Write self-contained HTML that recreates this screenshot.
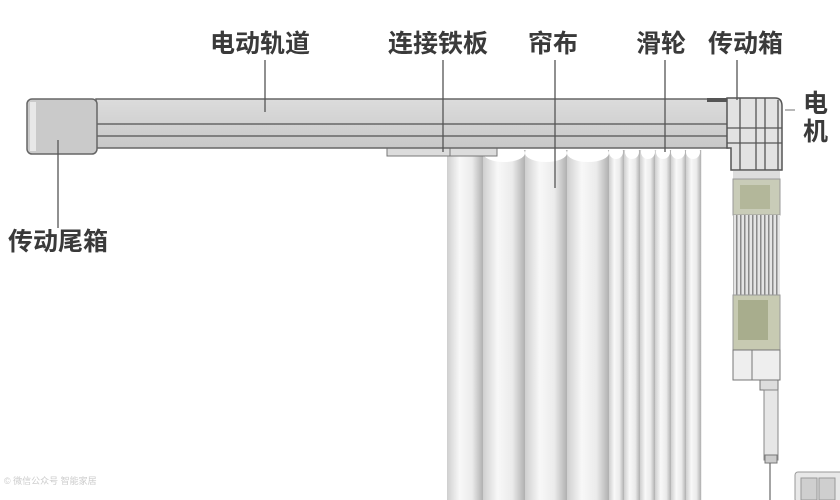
<!DOCTYPE html>
<html><head><meta charset="utf-8"><style>
html,body{margin:0;padding:0;background:#fff;}
svg{display:block}
text{font-family:"Liberation Sans","Noto Sans CJK SC",sans-serif;font-weight:bold;fill:#3a3a3a;font-size:25px}
</style></head><body>
<svg width="840" height="500" viewBox="0 0 840 500" xmlns="http://www.w3.org/2000/svg">
<defs>
<linearGradient id="fold" x1="0" x2="1" y1="0" y2="0">
<stop offset="0" stop-color="#cfcfcf"/><stop offset="0.35" stop-color="#f8f8f8"/><stop offset="0.7" stop-color="#ebebeb"/><stop offset="1" stop-color="#b0b0b0"/>
</linearGradient>
<linearGradient id="trk" x1="0" x2="0" y1="0" y2="1">
<stop offset="0" stop-color="#dcdcdc"/><stop offset="1" stop-color="#c8c8c8"/>
</linearGradient>
<pattern id="grill" width="4" height="4" patternUnits="userSpaceOnUse">
<rect width="4" height="4" fill="#e4e4e4"/><rect width="1.5" height="4" fill="#8a8a8a"/>
</pattern>
</defs>

<text x="210" y="52">电动轨道</text>
<text x="388" y="52">连接铁板</text>
<text x="528" y="52">帘布</text>
<text x="636" y="52">滑轮</text>
<text x="708" y="52">传动箱</text>
<text x="803" y="112">电</text>
<text x="803" y="140">机</text>
<text x="8" y="250">传动尾箱</text>

<g>
<rect x="447" y="150" width="255" height="350" fill="#efefef"/>
<rect x="447" y="150" width="36" height="350" fill="url(#fold)"/>
<rect x="483" y="150" width="42" height="350" fill="url(#fold)"/>
<rect x="525" y="150" width="42" height="350" fill="url(#fold)"/>
<rect x="567" y="150" width="42" height="350" fill="url(#fold)"/>
<rect x="609" y="150" width="15" height="350" fill="url(#fold)"/>
<rect x="624" y="150" width="16" height="350" fill="url(#fold)"/>
<rect x="640" y="150" width="15" height="350" fill="url(#fold)"/>
<rect x="655" y="150" width="16" height="350" fill="url(#fold)"/>
<rect x="671" y="150" width="15" height="350" fill="url(#fold)"/>
<rect x="686" y="150" width="15" height="350" fill="url(#fold)"/>
<g fill="#fff">
<ellipse cx="504" cy="153" rx="21" ry="9"/><ellipse cx="546" cy="153" rx="21" ry="9"/><ellipse cx="588" cy="153" rx="21" ry="9"/>
<ellipse cx="616" cy="152" rx="7" ry="7"/><ellipse cx="632" cy="152" rx="7" ry="7"/><ellipse cx="648" cy="152" rx="7" ry="7"/><ellipse cx="663" cy="152" rx="7" ry="7"/><ellipse cx="678" cy="152" rx="7" ry="7"/><ellipse cx="693" cy="152" rx="7" ry="7"/>
</g>
</g>

<rect x="387" y="146" width="110" height="10" fill="#dcdcdc" stroke="#777" stroke-width="1"/>
<line x1="450" y1="146" x2="450" y2="156" stroke="#777"/>

<rect x="96" y="99" width="632" height="49" fill="url(#trk)" stroke="#666" stroke-width="1.5"/>
<line x1="96" y1="124" x2="728" y2="124" stroke="#666" stroke-width="1.5"/>
<line x1="96" y1="136" x2="728" y2="136" stroke="#666" stroke-width="1.5"/>
<rect x="27" y="99" width="70" height="55" rx="5" fill="#cacaca" stroke="#666" stroke-width="1.5"/>
<rect x="30" y="102" width="6" height="49" fill="#e8e8e8"/>

<rect x="707" y="98" width="22" height="4" fill="#555"/>
<path d="M727 98 H775 Q782 98 782 106 V170 H731 V148 H727 Z" fill="#e2e2e2" stroke="#555" stroke-width="1.5"/>
<g stroke="#555" stroke-width="1.3">
<line x1="740" y1="98" x2="740" y2="170"/><line x1="756" y1="98" x2="756" y2="170"/><line x1="765" y1="98" x2="765" y2="170"/><line x1="778" y1="100" x2="778" y2="170"/>
<line x1="727" y1="128" x2="782" y2="128"/><line x1="727" y1="143" x2="782" y2="143"/>
</g>
<line x1="785" y1="110" x2="795" y2="110" stroke="#888" stroke-width="1.2"/>

<rect x="733" y="171" width="47" height="8" fill="#ddd"/>
<rect x="733" y="179" width="47" height="36" fill="#c9ccb8" stroke="#999"/>
<rect x="740" y="185" width="30" height="24" fill="#b3b79a"/>
<rect x="733" y="215" width="47" height="80" fill="url(#grill)"/>
<rect x="733" y="295" width="47" height="55" fill="#c7cab2" stroke="#999"/>
<rect x="738" y="300" width="30" height="40" fill="#a8ad8d"/>
<rect x="733" y="350" width="47" height="30" fill="#eee" stroke="#777"/>
<line x1="752" y1="350" x2="752" y2="380" stroke="#777"/>
<rect x="760" y="380" width="18" height="10" fill="#ddd" stroke="#777"/>
<rect x="764" y="390" width="14" height="70" fill="#e6e6e6" stroke="#888"/>
<rect x="765" y="455" width="12" height="8" fill="#ccc" stroke="#777"/>
<line x1="770" y1="463" x2="770" y2="500" stroke="#666" stroke-width="1.2"/>
<rect x="795" y="472" width="50" height="30" rx="3" fill="#e8e8e8" stroke="#999"/>
<rect x="801" y="478" width="16" height="22" fill="#cfcfcf" stroke="#999"/>
<rect x="819" y="478" width="16" height="22" fill="#cfcfcf" stroke="#999"/>

<g stroke="#555" stroke-width="1.3">
<line x1="265" y1="60" x2="265" y2="112"/>
<line x1="443" y1="60" x2="443" y2="152"/>
<line x1="555" y1="60" x2="555" y2="188"/>
<line x1="665" y1="60" x2="665" y2="152"/>
<line x1="737" y1="60" x2="737" y2="100"/>
<line x1="58" y1="140" x2="58" y2="228"/>
</g>
<text x="4" y="484" style="font-size:9px;font-weight:normal;fill:#ccc">©  微信公众号 智能家居</text>
</svg>
</body></html>
